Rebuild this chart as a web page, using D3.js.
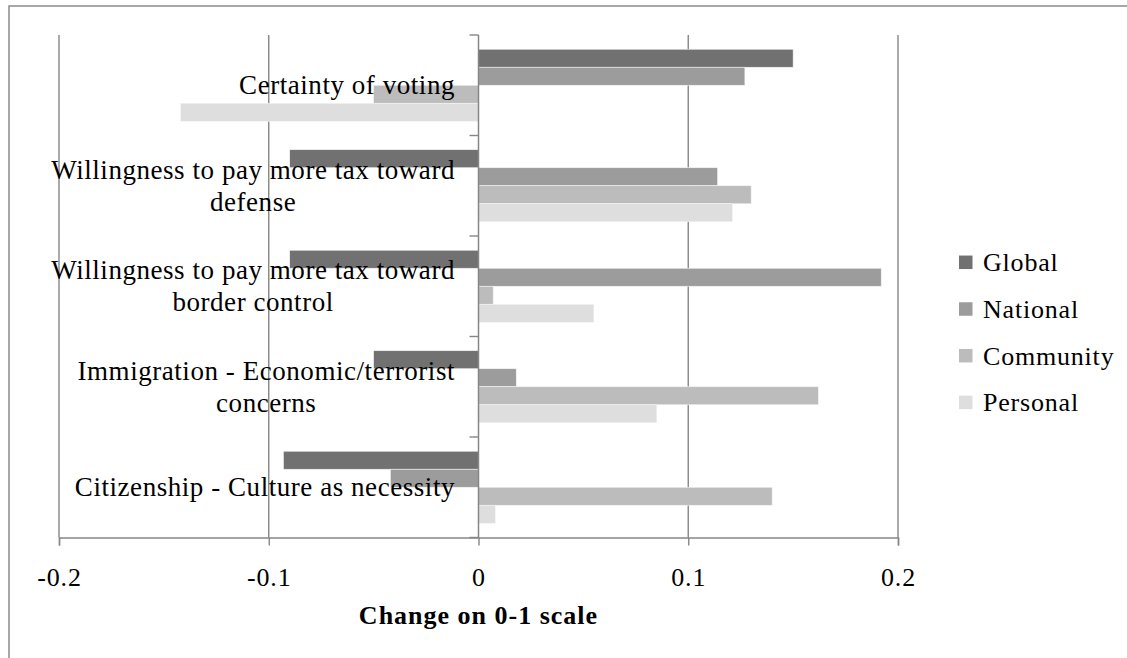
<!DOCTYPE html>
<html>
<head>
<meta charset="utf-8">
<script src="https://cdn.jsdelivr.net/npm/d3@7"></script>
<style>
  html, body { margin: 0; padding: 0; background: #fff; }
  svg { display: block; }
  text { font-family: "Liberation Serif", "DejaVu Serif", serif; fill: #000; }
</style>
</head>
<body>
<svg id="chart" width="1127" height="658"></svg>
<script>
const categories = [
  "Certainty of voting",
  "Willingness to pay more tax toward\ndefense",
  "Willingness to pay more tax toward\nborder control",
  "Immigration - Economic/terrorist\nconcerns",
  "Citizenship - Culture as necessity"
];
const seriesNames = ["Global", "National", "Community", "Personal"];
const globalVals    = [0.150, -0.090, -0.090, -0.050, -0.093];
const nationalVals  = [0.127,  0.114,  0.192,  0.018, -0.042];
const communityVals = [-0.050, 0.130,  0.007,  0.162,  0.140];
const personalVals  = [-0.142, 0.121,  0.055,  0.085,  0.008];
const seriesColors = ["#717171", "#9c9c9c", "#bcbcbc", "#dedede"];
const xTicks = [-0.2, -0.1, 0, 0.1, 0.2];
const xTickLabels = ["-0.2", "-0.1", "0", "0.1", "0.2"];
const xTitle = "Change on 0-1 scale";

const seriesVals = [globalVals, nationalVals, communityVals, personalVals];
const svg = d3.select("#chart");

// outer frame (only top & left edges visible)
svg.append("rect").attr("x", 9).attr("y", 6).attr("width", 1200).attr("height", 700)
  .attr("fill", "none").attr("stroke", "#8a8a8a").attr("stroke-width", 1.5);

const x = d3.scaleLinear().domain([-0.2, 0.2]).range([59, 898]);
const y0 = d3.scaleBand().domain(d3.range(categories.length)).range([35, 537.5]).paddingInner(0).paddingOuter(0);
const y1 = d3.scaleBand().domain(d3.range(seriesNames.length)).range([0, y0.bandwidth()]).paddingInner(0).paddingOuter(0.79);

const gridColor = "#868686";

// vertical gridlines
svg.append("g").selectAll("line").data(xTicks.filter(d => d !== 0)).join("line")
  .attr("x1", d => x(d)).attr("x2", d => x(d))
  .attr("y1", 35).attr("y2", 537.5)
  .attr("stroke", gridColor).attr("stroke-width", 1.4);

// bars
const groups = svg.append("g").selectAll("g").data(categories).join("g")
  .attr("transform", (d, i) => `translate(0,${y0(i)})`);
groups.each(function(c, ci) {
  d3.select(this).selectAll("rect").data(seriesNames).join("rect")
    .attr("x", (s, si) => x(Math.min(0, seriesVals[si][ci])))
    .attr("width", (s, si) => Math.abs(x(seriesVals[si][ci]) - x(0)))
    .attr("y", (s, si) => y1(si))
    .attr("height", y1.bandwidth())
    .attr("fill", (s, si) => seriesColors[si])
    .attr("stroke", "#f4f4f4").attr("stroke-width", 0.6);
});

// bottom axis
const xAxis = d3.axisBottom(x).tickValues(xTicks).tickSize(8).tickFormat((d, i) => xTickLabels[i]);
const gx = svg.append("g").attr("transform", "translate(0,537.5)").call(xAxis);
gx.select(".domain").attr("stroke", gridColor).attr("stroke-width", 1.5);
gx.selectAll(".tick line").attr("stroke", gridColor).attr("stroke-width", 1.4);
gx.selectAll(".tick text").attr("y", 0).attr("dy", null)
  .attr("transform", "translate(0,48)")
  .style("font-family", "'Liberation Serif', serif").style("font-size", "26px")
  .style("letter-spacing", "0.8px").attr("fill", "#000");

// vertical category axis at zero
const yBoundaries = d3.range(categories.length + 1).map(i => i < categories.length ? y0(i) : y0.range()[1]);
svg.append("line").attr("x1", x(0)).attr("x2", x(0)).attr("y1", 35).attr("y2", 537.5)
  .attr("stroke", gridColor).attr("stroke-width", 1.5);
svg.append("g").selectAll("line").data(yBoundaries).join("line")
  .attr("x1", x(0) - 9).attr("x2", x(0)).attr("y1", d => d).attr("y2", d => d)
  .attr("stroke", gridColor).attr("stroke-width", 1.4);

// category labels
const labelRight = 455;
const lineH = 31.6;
categories.forEach((c, ci) => {
  const lines = c.split("\n");
  const cy = y0(ci) + y0.bandwidth() / 2;
  const g = svg.append("g");
  const texts = lines.map((ln, li) => g.append("text")
    .attr("y", cy + 9 + (li - (lines.length - 1) / 2) * lineH)
    .attr("text-anchor", "middle")
    .style("font-size", "27px")
    .style("letter-spacing", "0.55px")
    .text(ln));
  const maxW = d3.max(texts, t => t.node().getComputedTextLength());
  texts.forEach(t => t.attr("x", labelRight - maxW / 2));
});

// axis title
svg.append("text").attr("x", x(0)).attr("y", 624).attr("text-anchor", "middle")
  .style("font-size", "26px").style("font-weight", "bold").style("letter-spacing", "1px").text(xTitle);

// legend
const legY = d3.scaleLinear().domain([0, seriesNames.length - 1]).range([262.3, 402.4]);
const leg = svg.append("g").selectAll("g").data(seriesNames).join("g")
  .attr("transform", (d, i) => `translate(959,${legY(i)})`);
leg.append("rect").attr("x", 0).attr("y", -6.75).attr("width", 13.5).attr("height", 13.5)
  .attr("fill", (d, i) => seriesColors[i]);
leg.append("text").attr("x", 24).attr("y", 9).style("font-size", "26px")
  .style("letter-spacing", "0.8px").text(d => d);
</script>
</body>
</html>
